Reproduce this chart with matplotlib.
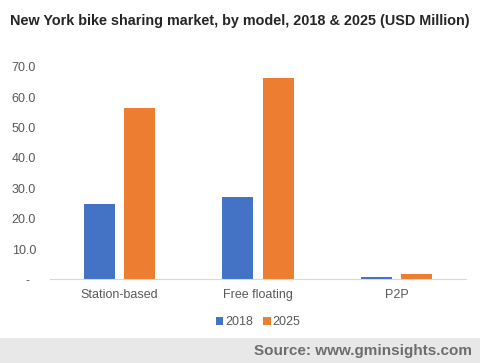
import numpy as np
import matplotlib
matplotlib.use("Agg")
from matplotlib import pyplot as plt
from matplotlib.patches import Rectangle

plt.rcParams['font.family'] = ['Liberation Sans', 'DejaVu Sans']

# data
categories = ["Station-based", "Free floating", "P2P"]
years = ["2018", "2025"]
values_2018 = [24.8, 27.1, 0.8]
values_2025 = [56.4, 66.2, 1.9]
ytick_vals = [0, 10, 20, 30, 40, 50, 60, 70]
ytick_labels = ["    -", "10.0", "20.0", "30.0", "40.0", "50.0", "60.0", "70.0"]

blue = "#4472C4"
orange = "#ED7D31"
text_grey = "#595959"

fig = plt.figure(figsize=(4.8, 3.63), dpi=100)
ax = fig.add_axes([0.104, 0.2303, 0.867, 0.586])

x = np.arange(len(categories))
w = 0.224
off = 0.145
ax.bar(x - off, values_2018, w, color=blue, label=years[0])
ax.bar(x + off, values_2025, w, color=orange, label=years[1])

ax.set_xlim(-0.5, 2.5)
ax.set_ylim(0, 70)
ax.set_yticks(ytick_vals)
ax.set_yticklabels(ytick_labels)
ax.set_xticks(x)
ax.set_xticklabels(categories)
ax.tick_params(axis='both', length=0, colors=text_grey, labelsize=9)
ax.tick_params(axis='y', pad=27.5)
ax.tick_params(axis='x', pad=7)
for lab in ax.get_yticklabels():
    lab.set_horizontalalignment('left')
for s in ["top", "right", "left"]:
    ax.spines[s].set_visible(False)
ax.spines["bottom"].set_color("#d9d9d9")

leg = ax.legend(loc="upper center", bbox_to_anchor=(0.5, -0.12), ncol=2,
                frameon=False, fontsize=9, handlelength=0.6, handleheight=0.6,
                handletextpad=0.15, columnspacing=0.8)
for t in leg.get_texts():
    t.set_color(text_grey)

fig.text(0.5, 0.943, "New York bike sharing market, by model, 2018 & 2025 (USD Million)",
         ha="center", va="center", fontsize=10.4, fontweight="bold", color="#262626")

# footer band
fig.patches.append(Rectangle((0, 0), 1, 0.069, transform=fig.transFigure,
                             facecolor="#e8e8e8", edgecolor="none", zorder=0))
fig.text(0.983, 0.033, "Source: www.gminsights.com", ha="right", va="center",
         fontsize=11, fontweight="bold", color="#6d6d6d")

fig.savefig("out.png", dpi=100)
